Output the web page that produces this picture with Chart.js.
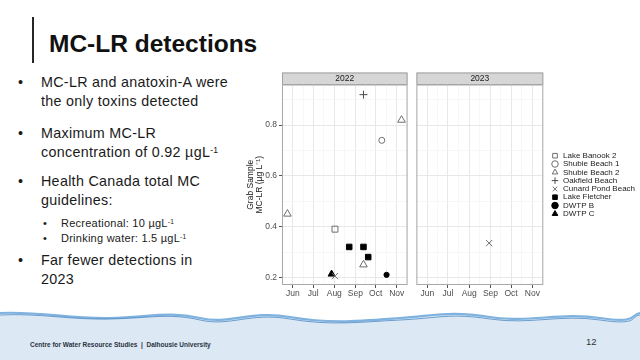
<!DOCTYPE html>
<html>
<head>
<meta charset="utf-8">
<script src="https://cdn.jsdelivr.net/npm/chart.js@4.4.1/dist/chart.umd.min.js"></script>
<style>
  html, body { margin: 0; padding: 0; width: 640px; height: 360px; overflow: hidden; background: #ffffff; }
  body { position: relative; font-family: "Liberation Sans", Arial, sans-serif; color: #1a1a1a; }
  .bar { position: absolute; left: 32px; top: 17px; width: 1.5px; height: 46px; background: #262626; }
  .title { position: absolute; left: 49px; top: 31.5px; font-size: 24.5px; line-height: 24px; font-weight: bold; color: #111; white-space: nowrap; }
  .p { position: absolute; left: 41px; font-size: 14.3px; letter-spacing: 0.3px; line-height: 19.3px; white-space: nowrap; }
  .p::before { content: "\2022"; position: absolute; left: -23px; }
  .s { position: absolute; left: 61px; font-size: 11px; letter-spacing: 0.25px; line-height: 14.4px; white-space: nowrap; }
  .s::before { content: "\2022"; position: absolute; left: -18px; }
  sup { font-size: 0.6em; line-height: 0; vertical-align: 0.5em; }
  #wave { position: absolute; left: 0; top: 305px; }
  .foot { position: absolute; left: 30px; top: 341px; font-size: 6.5px; font-weight: bold; color: #2a3340; white-space: nowrap; }
  .pnum { position: absolute; left: 586px; top: 336px; font-size: 9.5px; color: #333; }
  canvas { position: absolute; }
</style>
</head>
<body>
<div class="bar"></div>
<div class="title">MC-LR detections</div>
<div class="p" style="top:72.5px">MC-LR and anatoxin-A were<br>the only toxins detected</div>
<div class="p" style="top:123.8px">Maximum MC-LR<br>concentration of 0.92 µgL<sup>-1</sup></div>
<div class="p" style="top:172.2px">Health Canada total MC<br>guidelines:</div>
<div class="s" style="top:216.3px">Recreational: 10 µgL<sup>-1</sup></div>
<div class="s" style="top:230.7px">Drinking water: 1.5 µgL<sup>-1</sup></div>
<div class="p" style="top:251.2px">Far fewer detections in<br>2023</div>

<svg id="wave" width="640" height="55" viewBox="0 0 640 55">
  <path d="M0,8 C40,6 70,14 110,13 S170,6 200,13 S250,5 290,12 S360,16 400,13 S450,6 490,12 S560,7 600,13 S630,9 640,8 L640,55 L0,55 Z" fill="#dce9f5"/>
  <path d="M0,8 C40,6 70,14 110,13 S170,6 200,13 S250,5 290,12 S360,16 400,13 S450,6 490,12 S560,7 600,13 S630,9 640,8" fill="none" stroke="#7fb2de" stroke-width="2.2"/>
  <path d="M0,10 C40,8 70,15 110,14 S170,8 200,15 S250,7 290,14 S360,17 400,15 S450,8 490,14 S560,9 600,15 S630,11 640,10" fill="none" stroke="#3f7fbf" stroke-width="0.9" opacity="0.8"/>
</svg>
<div class="foot">Centre for Water Resource Studies &nbsp;|&nbsp; Dalhousie University</div>
<div class="pnum">12</div>

<canvas id="c2022" width="173" height="240" style="left:240px;top:65px"></canvas>
<canvas id="c2023" width="240" height="240" style="left:411px;top:65px"></canvas>

<script>
// ---------------- data ----------------
const siteNames = ['Lake Banook 2', 'Shubie Beach 1', 'Shubie Beach 2', 'Oakfield Beach',
                   'Cunard Pond Beach', 'Lake Fletcher', 'DWTP B', 'DWTP C'];
const panelYears = ['2022', '2023'];
const monthLabels = ['Jun', 'Jul', 'Aug', 'Sep', 'Oct', 'Nov'];
const monthStarts = ['06-01', '07-01', '08-01', '09-01', '10-01', '11-01'];
const yTickLabels = ['0.2', '0.4', '0.6', '0.8'];

const lakeBanook2Dates = ['2022-08-02'];
const lakeBanook2Values = [0.39];
const shubieBeach1Dates = ['2022-10-10'];
const shubieBeach1Values = [0.74];
const shubieBeach2Dates = ['2022-05-24', '2022-09-13', '2022-11-08'];
const shubieBeach2Values = [0.45, 0.25, 0.82];
const oakfieldBeachDates = ['2022-09-13'];
const oakfieldBeachValues = [0.92];
const cunardPondBeachDates = ['2022-08-02', '2023-08-30'];
const cunardPondBeachValues = [0.205, 0.335];
const lakeFletcherDates = ['2022-08-23', '2022-09-13', '2022-09-20'];
const lakeFletcherValues = [0.32, 0.32, 0.28];
const dwtpBDates = ['2022-10-17'];
const dwtpBValues = [0.21];
const dwtpCDates = ['2022-07-28'];
const dwtpCValues = [0.213];

const siteDates = [lakeBanook2Dates, shubieBeach1Dates, shubieBeach2Dates, oakfieldBeachDates,
                   cunardPondBeachDates, lakeFletcherDates, dwtpBDates, dwtpCDates];
const siteValues = [lakeBanook2Values, shubieBeach1Values, shubieBeach2Values, oakfieldBeachValues,
                    cunardPondBeachValues, lakeFletcherValues, dwtpBValues, dwtpCValues];

// ---------------- styles / view ----------------
const OPEN = 'rgba(0,0,0,0)', GREY = '#6e6e6e';
const siteStyles = [
  { shape: 'rect', fill: OPEN, stroke: GREY, r: 4.2 },
  { shape: 'circle', fill: OPEN, stroke: GREY, r: 3 },
  { shape: 'triangle', fill: OPEN, stroke: GREY, r: 4.4 },
  { shape: 'cross', fill: OPEN, stroke: '#4a4a4a', r: 4 },
  { shape: 'crossRot', fill: OPEN, stroke: GREY, r: 4.4 },
  { shape: 'rect', fill: '#000', stroke: '#000', r: 3.9 },
  { shape: 'circle', fill: '#000', stroke: '#000', r: 2.6 },
  { shape: 'triangle', fill: '#000', stroke: '#000', r: 4 }
];
const xRange = ['05-16', '11-17'];
const yRange = [0.17, 0.96];

function dayOfYear(mmdd) {
  const [m, d] = mmdd.split('-').map(Number);
  return (Date.UTC(2001, m - 1, d) - Date.UTC(2001, 0, 1)) / 864e5 + 1;
}
function pointsFor(site, year) {
  return siteDates[site]
    .map((d, i) => ({ d, v: siteValues[site][i] }))
    .filter(p => p.d.startsWith(year))
    .map(p => ({ x: dayOfYear(p.d.slice(5)), y: p.v }));
}

const xMin = dayOfYear(xRange[0]), xMax = dayOfYear(xRange[1]);
const majorX = monthStarts.map(dayOfYear);
const xSteps = [dayOfYear('05-01')].concat(majorX, [dayOfYear('12-01')]);
const minorX = [];
for (let i = 0; i < xSteps.length - 1; i++) minorX.push((xSteps[i] + xSteps[i + 1]) / 2);
const xTicks = majorX.map(v => ({ value: v, major: true }))
  .concat(minorX.filter(v => v >= xMin && v <= xMax).map(v => ({ value: v, major: false })))
  .sort((a, b) => a.value - b.value);

const majorY = yTickLabels.map(Number);
const yTicks = [];
majorY.forEach(v => {
  yTicks.push({ value: v, major: true });
  yTicks.push({ value: +(v + 0.1).toFixed(2), major: false });
});

const panelStrip = {
  id: 'panelStrip',
  beforeDraw(chart, args, o) {
    const { ctx, chartArea: a } = chart;
    ctx.save();
    ctx.fillStyle = '#d6d6d6';
    ctx.fillRect(a.left, a.top - o.height, a.right - a.left, o.height);
    ctx.strokeStyle = '#a0a0a0';
    ctx.lineWidth = 1;
    ctx.strokeRect(a.left + 0.5, a.top - o.height + 0.5, a.right - a.left - 1, o.height - 0.5);
    ctx.fillStyle = '#1a1a1a';
    ctx.font = '8.5px "Liberation Sans", Arial, sans-serif';
    ctx.textAlign = 'center';
    ctx.textBaseline = 'middle';
    ctx.fillText(o.label, (a.left + a.right) / 2, a.top - o.height / 2 + 0.5);
    ctx.restore();
  },
  afterDraw(chart) {
    const { ctx, chartArea: a } = chart;
    ctx.save();
    ctx.strokeStyle = '#a8a8a8';
    ctx.lineWidth = 1;
    ctx.strokeRect(a.left + 0.5, a.top + 0.5, a.right - a.left - 1, a.bottom - a.top - 1);
    ctx.restore();
  }
};

const tickFont = { family: '"Liberation Sans", Arial, sans-serif', size: 8.5 };

function makeChart(id, panel, showAxis) {
  const datasets = siteNames.map((name, i) => ({
    label: name,
    data: pointsFor(i, panelYears[panel]),
    pointStyle: siteStyles[i].shape,
    pointRadius: siteStyles[i].r,
    pointHoverRadius: siteStyles[i].r,
    backgroundColor: siteStyles[i].fill,
    borderColor: siteStyles[i].stroke,
    borderWidth: 1,
    pointBorderWidth: 1,
    showLine: false
  }));
  const scales = {
    x: {
      type: 'linear', min: xMin, max: xMax,
      afterBuildTicks(s) { s.ticks = xTicks.map(t => ({ ...t })); },
      afterFit(s) { s.height = 20; },
      ticks: {
        autoSkip: false, maxRotation: 0, padding: 1, color: '#4d4d4d', font: tickFont,
        callback(v) { const k = majorX.indexOf(v); return k >= 0 ? monthLabels[k] : ''; }
      },
      grid: {
        color: c => c.tick && c.tick.major ? '#e8e8e8' : '#f3f3f3',
        lineWidth: c => c.tick && c.tick.major ? 1 : 0.7,
        tickLength: 3,
        tickColor: c => c.tick && c.tick.major ? '#555' : 'rgba(0,0,0,0)'
      },
      border: { display: false }
    },
    y: {
      type: 'linear', min: yRange[0], max: yRange[1],
      afterBuildTicks(s) { s.ticks = yTicks.map(t => ({ ...t })); },
      afterFit(s) { s.width = showAxis ? 42 : 0; },
      ticks: {
        display: showAxis, padding: 2, color: '#4d4d4d', font: tickFont,
        callback(v) { const k = majorY.findIndex(m => Math.abs(m - v) < 1e-6); return k >= 0 ? yTickLabels[k] : ''; }
      },
      grid: {
        color: c => c.tick && c.tick.major ? '#e8e8e8' : '#f3f3f3',
        lineWidth: c => c.tick && c.tick.major ? 1 : 0.7,
        drawTicks: showAxis,
        tickLength: 3,
        tickColor: c => c.tick && c.tick.major ? '#555' : 'rgba(0,0,0,0)'
      },
      border: { display: false },
      title: {
        display: showAxis,
        text: ['Grab Sample', 'MC-LR (µg L\u207B\u00B9)'],
        color: '#1a1a1a',
        font: { family: '"Liberation Sans", Arial, sans-serif', size: 8.5, lineHeight: 1 },
        padding: { top: 6.5, bottom: 0 }
      }
    }
  };
  if (!showAxis) {
    scales.spacer = {
      type: 'linear', position: 'right', display: true,
      grid: { display: false, drawTicks: false }, border: { display: false },
      ticks: { display: false },
      afterFit(s) { s.width = 7.4; }
    };
  }
  return new Chart(document.getElementById(id), {
    type: 'scatter',
    data: { datasets },
    options: {
      responsive: false, animation: false, devicePixelRatio: 1,
      layout: { padding: showAxis ? { top: 19.5, right: 2, left: 0, bottom: 0 } : { top: 19.5, right: 8, left: 2.3, bottom: 0 } },
      scales,
      plugins: {
        tooltip: { enabled: false },
        panelStrip: { label: panelYears[panel], height: 12 },
        legend: {
          display: !showAxis, position: 'right', align: 'center', fullSize: false, maxWidth: 130,
          labels: {
            usePointStyle: true, boxWidth: 8, boxHeight: 4.6, padding: 0.3,
            color: '#1a1a1a', font: { family: '"Liberation Sans", Arial, sans-serif', size: 8 }
          }
        }
      }
    },
    plugins: [panelStrip]
  });
}

const chartA = makeChart('c2022', 0, true);
const chartB = makeChart('c2023', 1, false);
const targetRight = 132.3;
const diff = chartB.chartArea.right - targetRight;
chartB.options.layout.padding.right += diff;
chartB.update('none');
</script>
</body>
</html>
